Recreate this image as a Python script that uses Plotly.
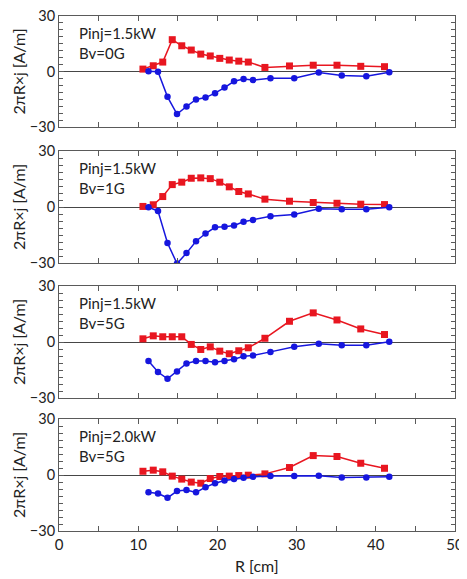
import plotly.graph_objects as go
from plotly.subplots import make_subplots

# R positions [cm]
r_red = [10.6, 11.9, 13.1, 14.3, 15.5, 16.7, 17.9, 19.1, 20.3, 21.5, 22.7, 23.9, 26.0, 29.1, 32.1, 35.1, 38.1, 41.1]
r_blue = [11.3, 12.5, 13.7, 14.9, 16.1, 17.3, 18.5, 19.7, 20.9, 22.1, 23.3, 24.5, 26.7, 29.7, 32.8, 35.7, 38.8, 41.7]

# panel labels
labels = ["Pinj=1.5kW<br>Bv=0G", "Pinj=1.5kW<br>Bv=1G", "Pinj=1.5kW<br>Bv=5G", "Pinj=2.0kW<br>Bv=5G"]

# 2πR×j [A/m] values
red_1 = [1.3, 3.1, 5.1, 17.2, 13.9, 11.6, 9.4, 8.4, 7.1, 6.2, 5.6, 5.1, 2.2, 3.0, 3.4, 3.4, 2.8, 2.6]
blue_1 = [0.1, -0.1, -13.7, -23.0, -18.9, -15.1, -14.1, -11.7, -8.7, -5.3, -4.0, -4.6, -3.7, -3.7, -0.6, -2.2, -2.6, -0.4]
red_2 = [0.3, 1.2, 5.6, 12.0, 13.3, 15.4, 15.6, 15.2, 13.3, 10.8, 8.3, 7.0, 4.2, 3.1, 2.4, 2.0, 1.5, 1.3]
blue_2 = [-0.1, -2.2, -19.3, -30.3, -24.7, -18.3, -14.2, -10.9, -10.6, -9.9, -7.9, -6.9, -4.9, -4.0, -1.0, -1.2, -1.2, -0.1]
red_3 = [1.7, 3.3, 2.8, 2.8, 2.8, -1.3, -4.0, -2.6, -4.9, -6.3, -4.7, -3.1, 2.0, 11.1, 15.6, 11.8, 7.0, 4.0]
blue_3 = [-10.2, -16.1, -19.7, -15.8, -11.5, -10.2, -10.2, -10.9, -10.2, -9.2, -7.6, -7.2, -5.3, -2.6, -1.0, -1.7, -1.7, 0.1]
red_4 = [2.0, 2.6, 1.7, -0.6, -2.2, -3.8, -4.4, -1.9, -0.8, -0.6, -0.3, -0.1, 0.6, 4.0, 10.4, 9.9, 6.3, 3.6]
blue_4 = [-9.3, -9.9, -12.2, -8.6, -8.1, -9.3, -6.5, -4.4, -2.9, -2.2, -1.5, -1.0, -0.6, -0.6, -0.4, -1.3, -1.3, -1.0]

reds = [red_1, red_2, red_3, red_4]
blues = [blue_1, blue_2, blue_3, blue_4]

x_ticks = [0, 5, 10, 15, 20, 25, 30, 35, 40, 45, 50]
x_ticktext = ["0", "", "10", "", "20", "", "30", "", "40", "", "50"]
y_ticks = [-30, 0, 30]

RED = "rgb(232,22,32)"
BLUE = "rgb(22,22,222)"
FRAME = "rgb(90,90,90)"
TXT = "#222"
FONT = "Lato"

# page body adds an 8px margin, so the figure is drawn 8px in from the top-left
OFF = 8
W, H = 467 - OFF, 579 - OFF
ML, MR, MT, MB = 59 - OFF, 12, 16 - OFF, 48
PW = W - ML - MR
PH = H - MT - MB

fig = make_subplots(rows=4, cols=1, shared_xaxes=False, vertical_spacing=0.0)

# panel pixel extents in the reference picture (top, bottom)
panel_px = [(16, 127), (151, 263), (286, 398), (419, 531)]
domains = [((H - MB - (b - OFF)) / PH, (H - MB - (t - OFF)) / PH) for t, b in panel_px]

for i in range(4):
    row = i + 1
    fig.add_trace(go.Scatter(x=r_red, y=reds[i], mode="lines+markers",
                             line=dict(color=RED, width=1.5),
                             marker=dict(symbol="square", size=7, color=RED),
                             showlegend=False), row=row, col=1)
    fig.add_trace(go.Scatter(x=r_blue, y=blues[i], mode="lines+markers",
                             line=dict(color=BLUE, width=1.5),
                             marker=dict(symbol="circle", size=6.5, color=BLUE),
                             showlegend=False), row=row, col=1)
    fig.update_xaxes(row=row, col=1, range=[0, 50], tickvals=x_ticks, ticktext=x_ticktext,
                     showticklabels=(i == 3), ticks="inside", ticklen=5, tickcolor=FRAME,
                     showline=True, linecolor=FRAME, linewidth=1, mirror="ticks",
                     showgrid=False, zeroline=False, automargin=False,
                     ticklabeloverflow="allow",
                     tickfont=dict(family=FONT, size=15, color=TXT))
    fig.update_yaxes(row=row, col=1, range=[-30, 30], tickvals=y_ticks,
                     ticks="inside", ticklen=5, tickcolor=FRAME,
                     minor=dict(dtick=3.75, tick0=0, ticks="inside", ticklen=4, tickcolor=FRAME),
                     showline=True, linecolor=FRAME, linewidth=1, mirror="ticks",
                     showgrid=False, zeroline=True, zerolinecolor="rgb(70,70,70)", zerolinewidth=1,
                     domain=list(domains[i]), automargin=False,
                     ticklabeloverflow="allow",
                     tickfont=dict(family=FONT, size=14.5, color=TXT))
    xref = "x domain" if i == 0 else f"x{i+1} domain"
    yref = "y domain" if i == 0 else f"y{i+1} domain"
    fig.add_annotation(x=0.045, y=0.95, xref=xref, yref=yref, text=labels[i],
                       showarrow=False, xanchor="left", yanchor="top", align="left",
                       font=dict(family=FONT, size=15, color=TXT))
    # rotated y-axis title
    fig.add_annotation(x=(18 - OFF - ML) / PW, y=0.5, xref="paper", yref=yref,
                       text="2πR×j [A/m]", textangle=-90, showarrow=False,
                       xanchor="center", yanchor="middle",
                       font=dict(family=FONT, size=16, color=TXT))

fig.add_annotation(x=0.5, y=(H - MB - (565 - OFF)) / PH, xref="paper", yref="paper",
                   text="R [cm]", showarrow=False, xanchor="center", yanchor="middle",
                   font=dict(family=FONT, size=16, color=TXT))

fig.update_layout(width=W, height=H, margin=dict(l=ML, r=MR, t=MT, b=MB),
                  plot_bgcolor="white", paper_bgcolor="white")

fig.write_html("out.html")
